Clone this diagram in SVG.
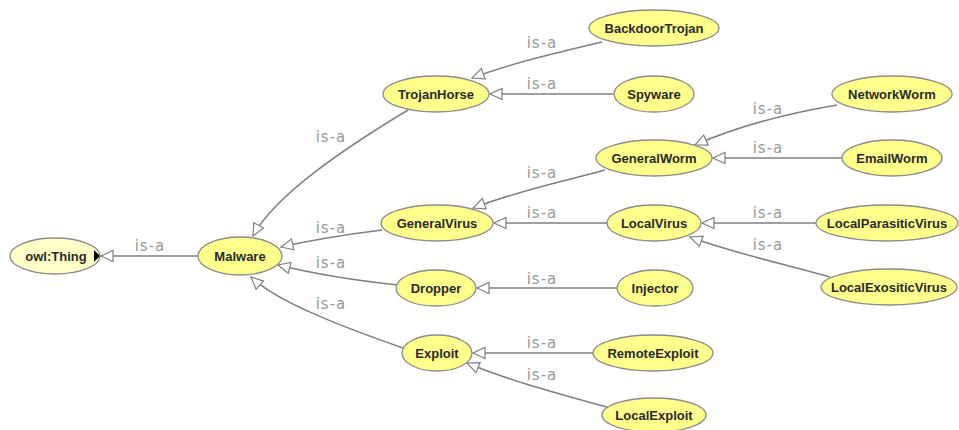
<svg xmlns="http://www.w3.org/2000/svg" width="959" height="430" viewBox="0 0 959 430">
<style>
.node ellipse{fill:#ffff8c;stroke:#8c8c8c;stroke-width:1.3}
.node text{font-family:"Liberation Sans",Arial,sans-serif;font-weight:bold;font-size:13px;fill:#2a2a2a;text-anchor:middle}
#owlThing ellipse{fill:#ffffc8}
.edges path{fill:none;stroke:#808080;stroke-width:1.5;marker-end:url(#tri)}
.lbl{font-family:"DejaVu Sans",sans-serif;font-size:15px;fill:#9a9a9a;text-anchor:middle;letter-spacing:1px}
</style>
<defs>
<marker id="tri" markerUnits="userSpaceOnUse" markerWidth="16" markerHeight="14" refX="14" refY="7" orient="auto" viewBox="0 0 16 14">
<path d="M2,1.5 L14,7 L2,12.5 z" fill="#ffffff" stroke="#808080" stroke-width="1.2"/>
</marker>
</defs>
<rect width="959" height="430" fill="#ffffff"/>
<g id="connectors" class="edges">
<path d="M198,256 L101,256"/>
<path d="M408,110 C345,148 275,195 253,236"/>
<path d="M382,230 C350,234 312,240 281,247"/>
<path d="M398,285 C360,281 315,274 278,265"/>
<path d="M403,348 C340,326 278,302 251,277"/>
<path d="M602,42 C560,52 512,63 472,78"/>
<path d="M614,94 L490,94"/>
<path d="M605,170 C570,180 520,190 473,208"/>
<path d="M607,223 L494,223"/>
<path d="M837,105 C790,113 740,125 695,145"/>
<path d="M842,158 L713,158"/>
<path d="M816,223 L702,223"/>
<path d="M830,277 C780,263 730,252 690,237"/>
<path d="M617,288 L477,288"/>
<path d="M593,353 L473,353"/>
<path d="M610,408 C560,394 510,381 467,363"/>
<text class="lbl" x="150" y="251">is-a</text>
<text class="lbl" x="331" y="142">is-a</text>
<text class="lbl" x="331" y="233">is-a</text>
<text class="lbl" x="331" y="268">is-a</text>
<text class="lbl" x="331" y="309">is-a</text>
<text class="lbl" x="542" y="48">is-a</text>
<text class="lbl" x="542" y="89">is-a</text>
<text class="lbl" x="542" y="178">is-a</text>
<text class="lbl" x="542" y="218">is-a</text>
<text class="lbl" x="768" y="114">is-a</text>
<text class="lbl" x="768" y="153">is-a</text>
<text class="lbl" x="768" y="218">is-a</text>
<text class="lbl" x="768" y="250">is-a</text>
<text class="lbl" x="542" y="284">is-a</text>
<text class="lbl" x="542" y="348">is-a</text>
<text class="lbl" x="542" y="380">is-a</text>
</g>
<g id="owlThing" class="node"><ellipse cx="55" cy="256" rx="45" ry="18"/><text x="56" y="260.5">owl:Thing</text><path d="M94,250 L100,256 L94,262 z" fill="#000"/></g>
<g id="Malware" class="node"><ellipse cx="240" cy="256" rx="42" ry="19"/><text x="240" y="260.5">Malware</text></g>
<g id="TrojanHorse" class="node"><ellipse cx="436" cy="94" rx="53" ry="18"/><text x="436" y="98.5">TrojanHorse</text></g>
<g id="BackdoorTrojan" class="node"><ellipse cx="654" cy="28" rx="65" ry="18"/><text x="654" y="32.5">BackdoorTrojan</text></g>
<g id="Spyware" class="node"><ellipse cx="654" cy="94" rx="40" ry="18"/><text x="654" y="98.5">Spyware</text></g>
<g id="GeneralVirus" class="node"><ellipse cx="437" cy="223" rx="56" ry="18"/><text x="437" y="227.5">GeneralVirus</text></g>
<g id="GeneralWorm" class="node"><ellipse cx="654" cy="158" rx="58" ry="18"/><text x="654" y="162.5">GeneralWorm</text></g>
<g id="NetworkWorm" class="node"><ellipse cx="892" cy="94" rx="60" ry="18"/><text x="892" y="98.5">NetworkWorm</text></g>
<g id="EmailWorm" class="node"><ellipse cx="892" cy="158" rx="50" ry="18"/><text x="892" y="162.5">EmailWorm</text></g>
<g id="LocalVirus" class="node"><ellipse cx="654" cy="223" rx="47" ry="18"/><text x="654" y="227.5">LocalVirus</text></g>
<g id="LocalParasiticVirus" class="node"><ellipse cx="887" cy="223" rx="71" ry="18"/><text x="887" y="227.5">LocalParasiticVirus</text></g>
<g id="LocalExositicVirus" class="node"><ellipse cx="889" cy="287" rx="68" ry="18"/><text x="889" y="291.5">LocalExositicVirus</text></g>
<g id="Dropper" class="node"><ellipse cx="436" cy="288" rx="40" ry="18"/><text x="436" y="292.5">Dropper</text></g>
<g id="Injector" class="node"><ellipse cx="655" cy="288" rx="38" ry="18"/><text x="655" y="292.5">Injector</text></g>
<g id="Exploit" class="node"><ellipse cx="437" cy="353" rx="35" ry="18"/><text x="437" y="357.5">Exploit</text></g>
<g id="RemoteExploit" class="node"><ellipse cx="653" cy="353" rx="60" ry="18"/><text x="653" y="357.5">RemoteExploit</text></g>
<g id="LocalExploit" class="node"><ellipse cx="654" cy="415" rx="52" ry="17"/><text x="654" y="419.5">LocalExploit</text></g>
</svg>
